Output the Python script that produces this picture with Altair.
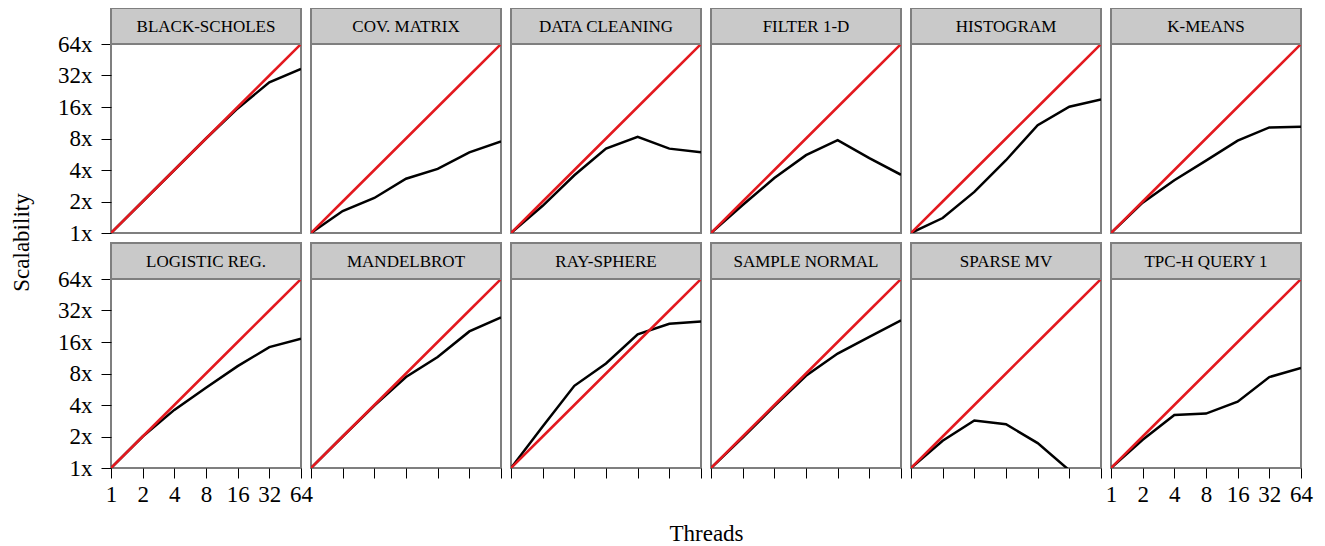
import altair as alt
import pandas as pd

threads = [1, 2, 4, 8, 16, 32, 64]
benchmarks = ["BLACK-SCHOLES", "COV. MATRIX", "DATA CLEANING", "FILTER 1-D", "HISTOGRAM", "K-MEANS",
              "LOGISTIC REG.", "MANDELBROT", "RAY-SPHERE", "SAMPLE NORMAL", "SPARSE MV", "TPC-H QUERY 1"]

black_scholes = [1, 2, 4, 8, 15.5, 27.5, 37]
cov_matrix = [1, 1.62, 2.16, 3.3, 4.1, 5.9, 7.5]
data_cleaning = [1, 1.82, 3.56, 6.4, 8.3, 6.4, 5.9]
filter_1d = [1, 1.85, 3.35, 5.55, 7.7, 5.2, 3.6]
histogram = [1, 1.39, 2.47, 4.96, 10.7, 16.1, 18.9]
k_means = [1, 1.95, 3.19, 4.91, 7.62, 10.2, 10.35]
logistic_reg = [1, 2, 3.59, 5.85, 9.4, 14.3, 17.2]
mandelbrot = [1, 2, 3.95, 7.4, 11.5, 20.2, 27.5]
ray_sphere = [1, 2.49, 6.1, 9.96, 18.9, 23.9, 25.1]
sample_normal = [1, 1.95, 3.9, 7.6, 12.4, 17.9, 25.7]
sparse_mv = [1, 1.82, 2.84, 2.62, 1.73, 0.95, 0.5]
tpch_q1 = [1, 1.86, 3.21, 3.31, 4.3, 7.4, 9.06]

series = [black_scholes, cov_matrix, data_cleaning, filter_1d, histogram, k_means,
          logistic_reg, mandelbrot, ray_sphere, sample_normal, sparse_mv, tpch_q1]

W, H, HEAD = 190, 189, 36
FONT = "Liberation Serif"
RED = "#e3191f"


def panel(i, name, vals):
    row, col = divmod(i, 6)
    df = pd.DataFrame({
        "threads": threads + threads,
        "value": list(vals) + threads,
        "series": ["actual"] * len(threads) + ["ideal"] * len(threads),
    })
    if row == 0:
        x_axis = None
    else:
        xkw = dict(values=threads, labels=(col in (0, 5)), labelFlush=False, labelOverlap=False,
                   labelPadding=5, title=None)
        if i == 8:
            xkw.update(title="Threads", titleX=195, titleY=65, titleBaseline="middle",
                       titleAlign="center")
        x_axis = alt.Axis(**xkw)
    if col == 0:
        ykw = dict(values=threads, labelExpr="datum.value + 'x'", labelOverlap=False,
                   labelPadding=9, title=None)
        if i == 6:
            ykw.update(title="Scalability", titleX=-90, titleY=-37, titleBaseline="middle",
                       titleAlign="center", titleAngle=270)
        y_axis = alt.Axis(**ykw)
    else:
        y_axis = None

    lines = alt.Chart(df).mark_line(clip=True, strokeWidth=2.5).encode(
        x=alt.X("threads:Q", scale=alt.Scale(type="log", base=2, domain=[1, 64], nice=False), axis=x_axis),
        y=alt.Y("value:Q", scale=alt.Scale(type="log", base=2, domain=[1, 64], nice=False), axis=y_axis),
        color=alt.Color("series:N", scale=alt.Scale(domain=["actual", "ideal"], range=["black", RED]),
                        legend=None),
        detail="series:N",
    )
    hdr = pd.DataFrame({"name": [name]})
    rect = alt.Chart(hdr).mark_rect(fill="#c9c9c9", stroke="#7f7f7f", strokeWidth=2).encode(
        x=alt.value(0), x2=alt.value(W), y=alt.value(-HEAD), y2=alt.value(0))
    text = alt.Chart(hdr).mark_text(font=FONT, fontSize=17, color="black", baseline="middle",
                                    align="center").encode(
        x=alt.value(W / 2), y=alt.value(-HEAD / 2 + 1), text="name:N")
    return alt.layer(lines, rect, text).properties(width=W, height=H)


panels = [panel(i, n, v) for i, (n, v) in enumerate(zip(benchmarks, series))]

chart = alt.concat(*panels, columns=6, spacing={"row": HEAD + 10, "column": 10}, bounds="flush").properties(
    padding={"left": 1, "top": -2, "right": 2, "bottom": 0}
).configure_view(
    stroke="#7f7f7f", strokeWidth=2
).configure_axis(
    domain=False, grid=False, tickColor="black", tickSize=10, tickWidth=1,
    labelFont=FONT, labelFontSize=23, labelColor="black",
    titleFont=FONT, titleFontSize=23, titleColor="black", titleFontWeight="normal"
).resolve_scale(color="shared")

chart.save("out.html", embed_options={"renderer": "svg", "actions": False})
